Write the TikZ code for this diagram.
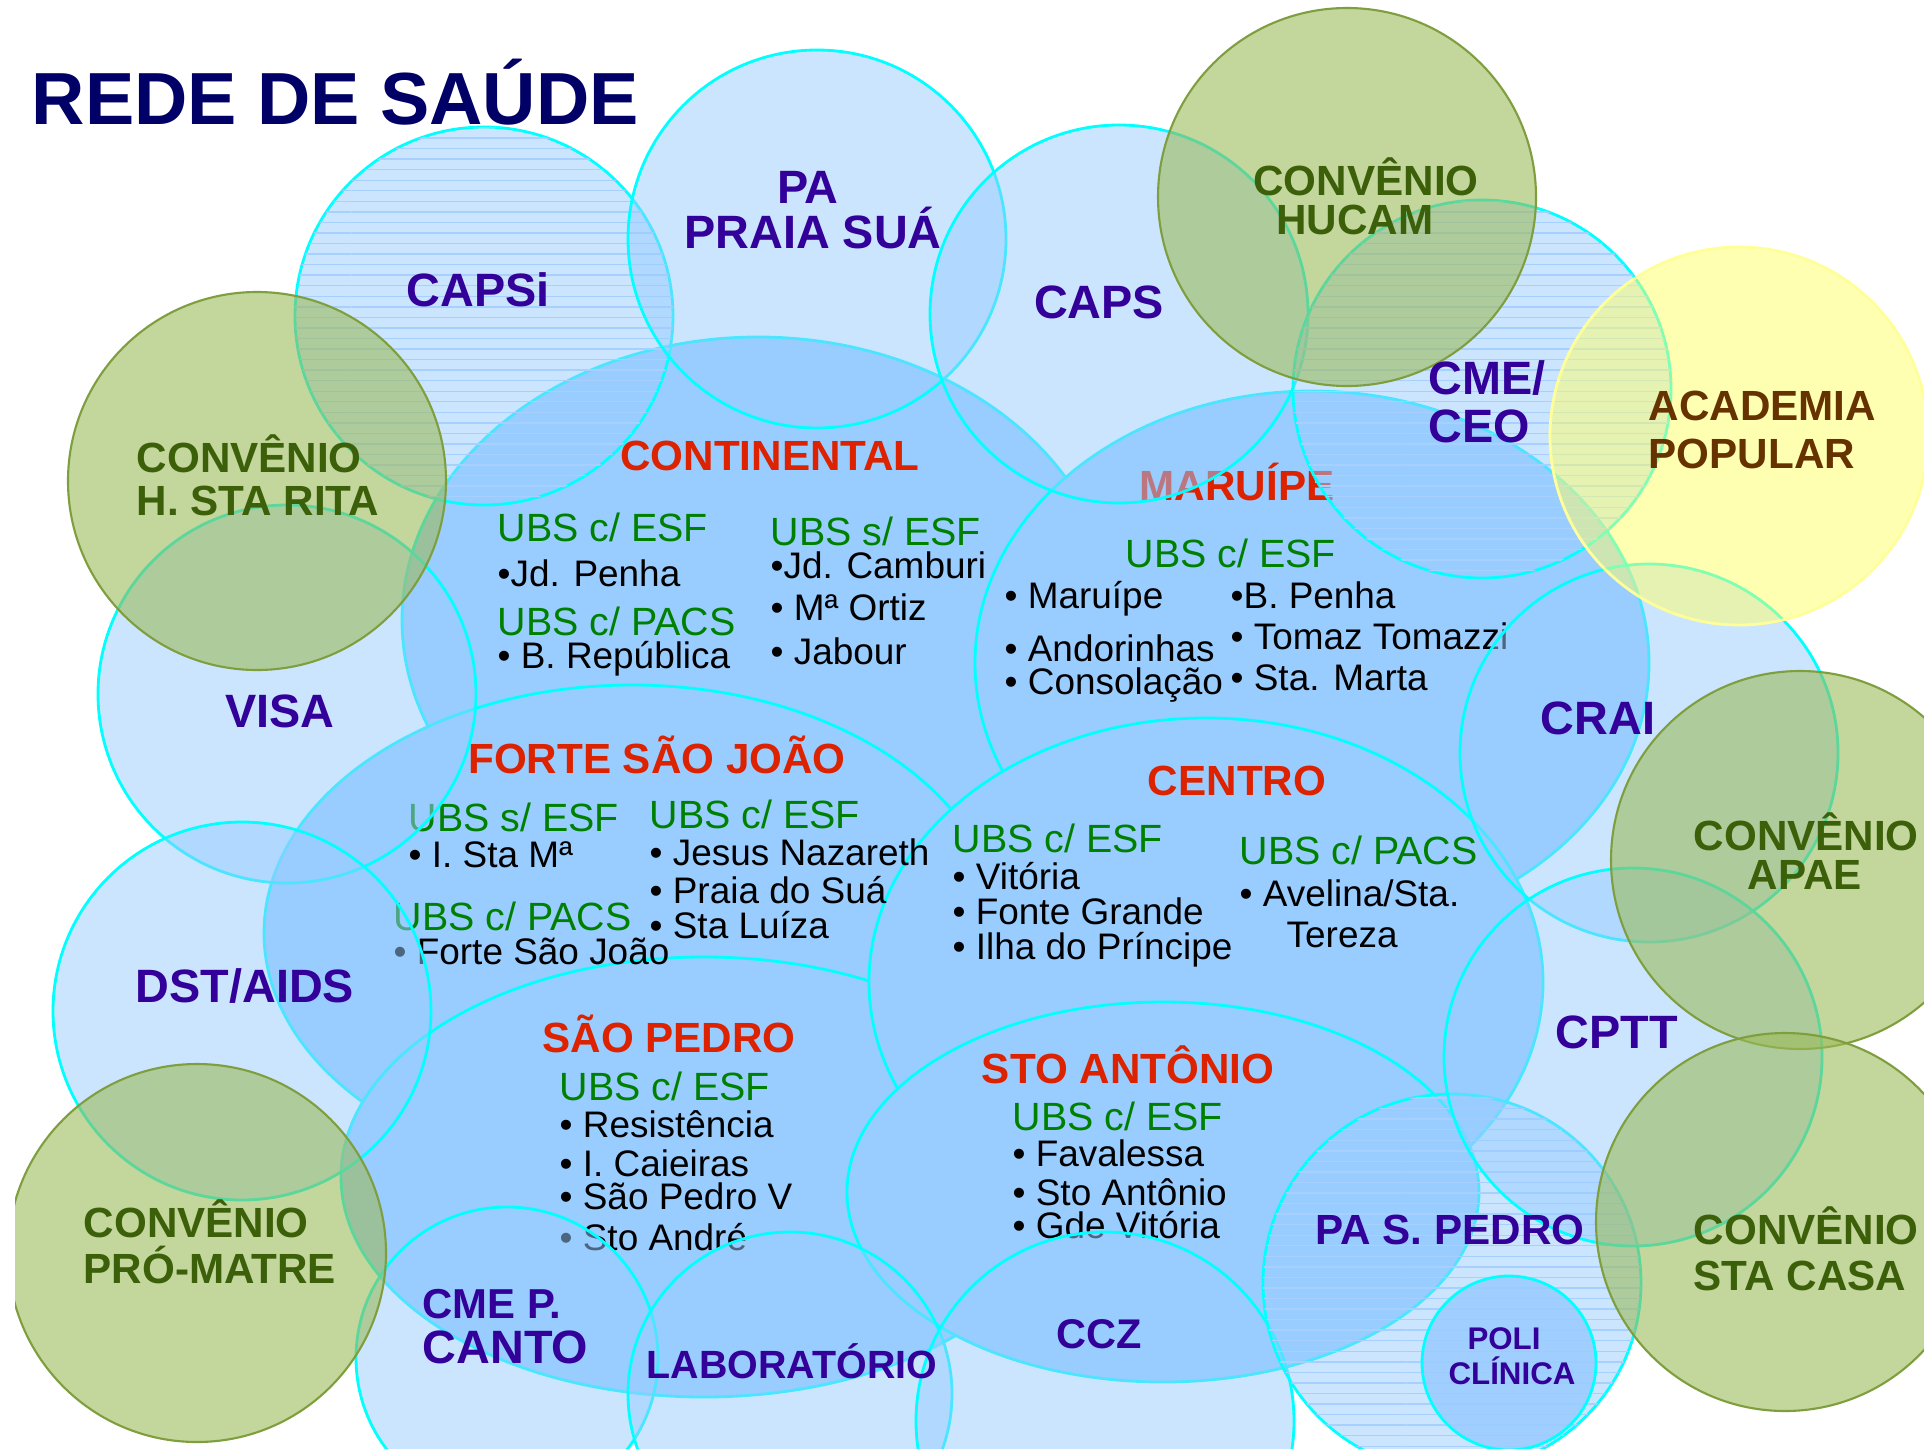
\documentclass[tikz,border=0pt]{standalone}
\usepackage{fontspec}
\setmainfont{Liberation Sans}
\usetikzlibrary{patterns}

\definecolor{cyanline}{HTML}{00FFFF}
\definecolor{regblue}{HTML}{99CCFF}
\definecolor{hatchblue}{HTML}{A8D0FF}
\definecolor{convgreen}{HTML}{9BBB59}
\definecolor{convline}{HTML}{7F9E3E}
\definecolor{acadfill}{HTML}{FFFF66}
\definecolor{acadline}{HTML}{FFFF99}
\definecolor{titleblue}{HTML}{000066}
\definecolor{servblue}{HTML}{330099}
\definecolor{regred}{HTML}{DD2200}
\definecolor{ubsgreen}{HTML}{008000}
\definecolor{convtext}{HTML}{3C600A}
\definecolor{acadtext}{HTML}{663300}

\begin{document}
\begin{tikzpicture}[x=0.01cm, y=-0.01cm,
  regio/.style={draw=cyanline, line width=0.8pt, fill=regblue},
  serv/.style={draw=cyanline, line width=0.8pt, fill=regblue, fill opacity=0.5},
  hatchcirc/.style={serv, postaction={pattern=horizontal lines, pattern color=hatchblue}},
  conv/.style={draw=convline, line width=0.6pt, fill=convgreen, fill opacity=0.6},
  acad/.style={draw=acadline, line width=0.8pt, fill=acadfill, fill opacity=0.5},
  regname/.style={font=\bfseries\fontsize{12}{14}\selectfont, text=regred, anchor=base, inner sep=0pt},
  ubs/.style={font=\fontsize{11.2}{13}\selectfont, text=ubsgreen, anchor=base west, inner sep=0pt},
  ubsitem/.style={font=\fontsize{10.5}{12}\selectfont, text=black, anchor=base west, inner sep=0pt},
  lbl/.style={font=\bfseries\fontsize{13.3}{15}\selectfont, text=servblue, anchor=base, inner sep=0pt},
  convlbl/.style={font=\bfseries\fontsize{12}{14}\selectfont, text=convtext, anchor=base west, inner sep=0pt}]

 \useasboundingbox (0,0) rectangle (1924,1448);
 \fill[white] (0,0) rectangle (1924,1448);

 \begin{scope}
 \clip (15,0) rectangle (1924,1448);

 \draw[regio] (758,620) ellipse [x radius=356, y radius=283];
 \draw[regio] (1312,663) ellipse [x radius=337, y radius=272];
 \draw[regio] (632,933) ellipse [x radius=368, y radius=248];
 \draw[regio] (704,1177) ellipse [x radius=363, y radius=220];
 \draw[regio] (1206,982) ellipse [x radius=337, y radius=264];
 \draw[regio] (1163,1192) ellipse [x radius=316, y radius=190];

 \node (continental) [regname] at (770,470) {CONTINENTAL};
 \node (maruipe)     [regname] at (1237,500) {MARUÍPE};
 \node (forte)       [regname] at (657,773) {FORTE SÃO JOÃO};
 \node (centro)      [regname] at (1237,795) {CENTRO};
 \node (saopedro)    [regname] at (669,1052) {SÃO PEDRO};
 \node (stoantonio)  [regname] at (1128,1083) {STO ANTÔNIO};

 \node (contA) [ubs] at (497,541) {UBS c/ ESF};
 \node (contB) [ubs] at (497,635) {UBS c/ PACS};
 \node (contC) [ubs] at (770,545) {UBS s/ ESF};
 \node (maruA) [ubs] at (1125,567) {UBS c/ ESF};
 \node (forteA) [ubs] at (408,831) {UBS s/ ESF};
 \node (forteB) [ubs] at (393,930) {UBS c/ PACS};
 \node (forteC) [ubs] at (649,828) {UBS c/ ESF};
 \node (centroA) [ubs] at (952,852) {UBS c/ ESF};
 \node (centroB) [ubs] at (1239,864) {UBS c/ PACS};
 \node (spA) [ubs] at (559,1100) {UBS c/ ESF};
 \node (saA) [ubs] at (1012,1130) {UBS c/ ESF};

 \node (jdpenha)   [ubsitem] at (497,586) {•Jd. Penha};
 \node (brep)      [ubsitem] at (497,668) {• B. República};
 \node (camburi)   [ubsitem] at (770,578) {•Jd. Camburi};
 \node (ortiz)     [ubsitem] at (770,620) {• Mª Ortiz};
 \node (jabour)    [ubsitem] at (770,664) {• Jabour};
 \node (marui)     [ubsitem] at (1004,608) {• Maruípe};
 \node (andor)     [ubsitem] at (1004,661) {• Andorinhas};
 \node (consol)    [ubsitem] at (1004,694) {• Consolação};
 \node (bpenha)    [ubsitem] at (1230,608) {•B. Penha};
 \node (tomaz)     [ubsitem] at (1230,649) {• Tomaz Tomazzi};
 \node (marta)     [ubsitem] at (1230,690) {• Sta. Marta};
 \node (stama)     [ubsitem] at (408,867) {• I. Sta Mª};
 \node (fsj)       [ubsitem] at (393,964) {• Forte São João};
 \node (jesus)     [ubsitem] at (649,865) {• Jesus Nazareth};
 \node (praia)     [ubsitem] at (649,903) {• Praia do Suá};
 \node (luiza)     [ubsitem] at (649,938) {• Sta Luíza};
 \node (vitoria)   [ubsitem] at (952,889) {• Vitória};
 \node (fonte)     [ubsitem] at (952,924) {• Fonte Grande};
 \node (ilha)      [ubsitem] at (952,959) {• Ilha do Príncipe};
 \node (avelina)   [ubsitem] at (1239,906) {• Avelina/Sta.};
 \node (tereza)    [ubsitem] at (1286,947) {Tereza};
 \node (resist)    [ubsitem] at (559,1137) {• Resistência};
 \node (caieiras)  [ubsitem] at (559,1176) {• I. Caieiras};
 \node (spv)       [ubsitem] at (559,1209) {• São Pedro V};
 \node (andre)     [ubsitem] at (559,1250) {• Sto André};
 \node (favalessa) [ubsitem] at (1012,1166) {• Favalessa};
 \node (stoant)    [ubsitem] at (1012,1205) {• Sto Antônio};
 \node (gde)       [ubsitem] at (1012,1238) {• Gde Vitória};

 \draw[hatchcirc] (484,316) circle [radius=189];
 \draw[serv] (817,239) circle [radius=189];
 \draw[serv] (1119,314) circle [radius=189];
 \draw[hatchcirc] (1482,389) circle [radius=189];
 \draw[serv] (287,694) circle [radius=189];
 \draw[serv] (242,1011) circle [radius=189];
 \draw[serv] (507,1358) circle [radius=151];
 \draw[serv] (790,1394) circle [radius=162];
 \draw[serv] (1105,1421) circle [radius=189];
 \draw[hatchcirc] (1452,1283) circle [radius=189];
 \draw[serv] (1649,753) circle [radius=189];
 \draw[serv] (1633,1057) circle [radius=189];
 \draw[serv, fill opacity=0.85] (1509,1363) circle [radius=87];

 \draw[conv] (1347,197) circle [radius=189];
 \draw[conv] (257,481) circle [radius=189];
 \draw[conv] (197,1253) circle [radius=189];
 \draw[conv] (1800,860) circle [radius=189];
 \draw[conv] (1785,1222) circle [radius=189];
 \draw[acad] (1739,436) circle [radius=189];
 \end{scope}

 \node (title) [font=\bfseries\fontsize{21}{24}\selectfont, text=titleblue, anchor=base west, inner sep=0pt] at (31,124) {REDE DE SAÚDE};

 \node (capsi) [lbl] at (478,306) {CAPSi};
 \node (paA)   [lbl] at (808,203) {PA};
 \node (paB)   [lbl] at (813,248) {PRAIA SUÁ};
 \node (caps)  [lbl] at (1099,318) {CAPS};
 \node (cmeA)  [lbl, anchor=base west] at (1428,394) {CME/};
 \node (cmeB)  [lbl, anchor=base west] at (1428,442) {CEO};
 \node (visa)  [lbl] at (280,727) {VISA};
 \node (dst)   [lbl] at (245,1002) {DST/AIDS};
 \node (crai)  [lbl] at (1598,734) {CRAI};
 \node (cptt)  [lbl] at (1617,1048) {CPTT};
 \node (paspedro) [lbl, font=\bfseries\fontsize{12}{14}\selectfont] at (1450,1244) {PA S. PEDRO};
 \node (poliA) [lbl, font=\bfseries\fontsize{8.9}{10}\selectfont] at (1504,1349) {POLI};
 \node (poliB) [lbl, font=\bfseries\fontsize{8.9}{10}\selectfont] at (1512,1384) {CLÍNICA};
 \node (cmepA) [lbl, anchor=base west, font=\bfseries\fontsize{11.9}{14}\selectfont] at (422,1318) {CME P.};
 \node (cmepB) [lbl, anchor=base west] at (422,1363) {CANTO};
 \node (lab)   [lbl, font=\bfseries\fontsize{11.2}{13}\selectfont] at (792,1378) {LABORATÓRIO};
 \node (ccz)   [lbl, font=\bfseries\fontsize{11.8}{14}\selectfont] at (1099,1348) {CCZ};

 \node (hucamA) [convlbl, anchor=base] at (1366,195) {CONVÊNIO};
 \node (hucamB) [convlbl, anchor=base] at (1355,234) {HUCAM};
 \node (ritaA)  [convlbl] at (136,472) {CONVÊNIO};
 \node (ritaB)  [convlbl] at (136,515) {H. STA RITA};
 \node (apaeA)  [convlbl] at (1693,850) {CONVÊNIO};
 \node (apaeB)  [convlbl, anchor=base] at (1805,889) {APAE};
 \node (casaA)  [convlbl] at (1693,1244) {CONVÊNIO};
 \node (casaB)  [convlbl] at (1693,1290) {STA CASA};
 \node (matreA) [convlbl] at (83,1237) {CONVÊNIO};
 \node (matreB) [convlbl] at (83,1283) {PRÓ-MATRE};
 \node (acadA)  [convlbl, text=acadtext] at (1648,420) {ACADEMIA};
 \node (acadB)  [convlbl, text=acadtext] at (1648,468) {POPULAR};
\end{tikzpicture}
\end{document}
